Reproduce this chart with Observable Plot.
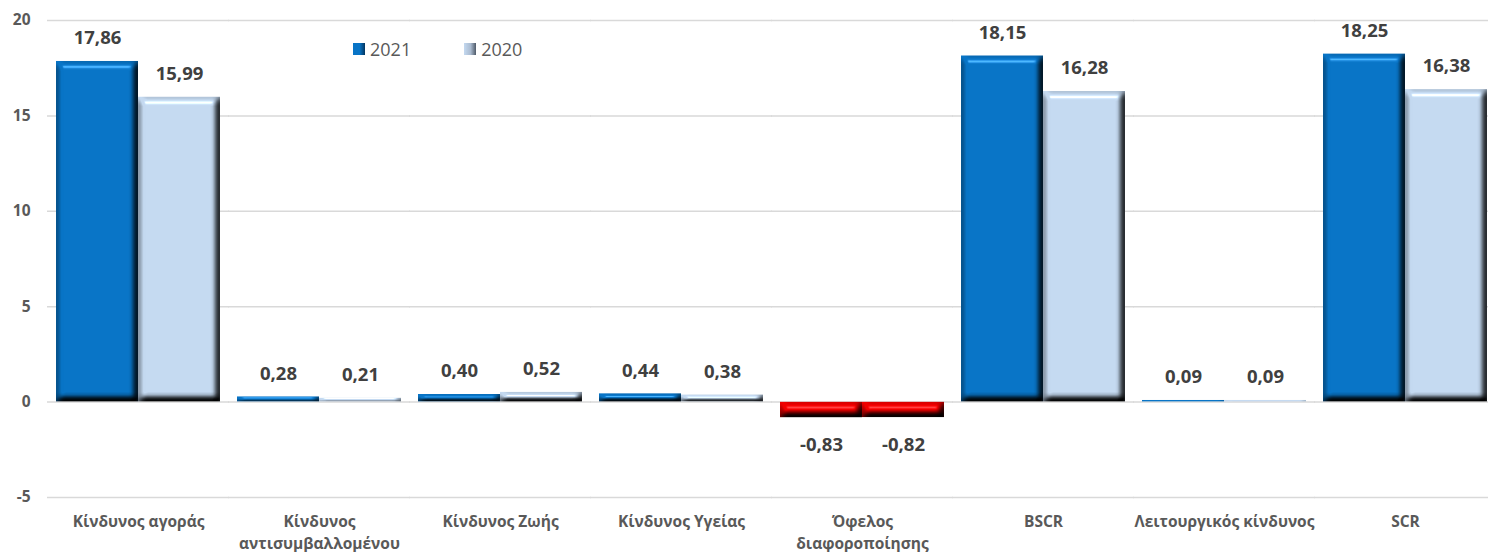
<!DOCTYPE html>
<html>
<head>
<meta charset="utf-8">
<script src="https://cdn.jsdelivr.net/npm/d3@7"></script>
<script src="https://cdn.jsdelivr.net/npm/@observablehq/plot@0.6"></script>
<style>
  html, body { margin: 0; padding: 0; background: #fff; overflow: hidden; }
  #wrap { position: relative; width: 1488px; height: 552px; font-family: "Open Sans", sans-serif; }
  #legend { position: absolute; left: 353px; top: 37px; display: flex; align-items: center; font-size: 18px; color: #595959; }
  #legend .item { display: flex; align-items: center; margin-right: 53px; }
  #legend .sw { width: 12px; height: 12px; margin-right: 5px; }
</style>
</head>
<body>
<div id="wrap">
  <div id="chart"></div>
  <div id="legend"></div>
</div>
<script>
// ---- data ----
const categories = ["Κίνδυνος αγοράς", "Κίνδυνος αντισυμβαλλομένου", "Κίνδυνος Ζωής", "Κίνδυνος Υγείας", "Όφελος διαφοροποίησης", "BSCR", "Λειτουργικός κίνδυνος", "SCR"];
const categoryTickLabels = ["Κίνδυνος αγοράς", "Κίνδυνος\nαντισυμβαλλομένου", "Κίνδυνος Ζωής", "Κίνδυνος Υγείας", "Όφελος\nδιαφοροποίησης", "BSCR", "Λειτουργικός κίνδυνος", "SCR"];
const years = ["2021", "2020"];
const values2021 = [17.86, 0.28, 0.40, 0.44, -0.83, 18.15, 0.09, 18.25];
const values2020 = [15.99, 0.21, 0.52, 0.38, -0.82, 16.28, 0.09, 16.38];
const yTicks = [-5, 0, 5, 10, 15, 20];
const yDomain = [-5, 20];
const yearColors = ["#0874C6", "#C4D9F0"];
const negativeColor = "#F00000";

// ---- table ----
const fmt = v => (v < 0 ? "-" : "") + Math.abs(v).toFixed(2).replace(".", ",");
const data = [];
categories.forEach((c, i) => {
  [values2021, values2020].forEach((vals, j) => {
    const v = vals[i];
    data.push({cat: c, year: years[j], value: v, label: fmt(v), color: v < 0 ? negativeColor : yearColors[j]});
  });
});

const chart = Plot.plot({
  width: 1488,
  height: 552,
  marginLeft: 46,
  marginRight: -9,
  marginTop: 20,
  marginBottom: 55,
  style: {fontFamily: "'Open Sans', sans-serif", background: "#fff", overflow: "visible"},
  fx: {domain: categories, paddingInner: 0.0944, paddingOuter: 0.05, label: null},
  x: {domain: years, padding: 0, axis: null},
  y: {domain: yDomain, axis: null},
  marks: [
    Plot.ruleY(yTicks, {stroke: "#d9d9d9", strokeWidth: 1.5, insetLeft: -9, insetRight: -9}),
    Plot.barY(data, {fx: "cat", x: "year", y: "value", fill: "color"}),
    Plot.text(data.filter(d => d.value >= 0), {fx: "cat", x: "year", y: "value", text: "label", dy: -23, fontSize: 18.5, fontWeight: "bold", fill: "#404040"}),
    Plot.text(data.filter(d => d.value < 0), {fx: "cat", x: "year", y: "value", text: "label", dy: 27, fontSize: 18.5, fontWeight: "bold", fill: "#404040"}),
    Plot.axisY({ticks: yTicks, tickSize: 0, tickPadding: 26, tickFormat: d => String(d), fontSize: 15.5, fontWeight: "bold", fill: "#595959", label: null}),
    Plot.axisFx({anchor: "bottom", tickSize: 0, tickPadding: 14, tickFormat: d => categoryTickLabels[categories.indexOf(d)], lineHeight: 1.42, fontSize: 15.5, fontWeight: "bold", fill: "#595959", label: null})
  ]
});

// bevel filter
const ns = "http://www.w3.org/2000/svg";
const defs = document.createElementNS(ns, "defs");
defs.innerHTML = `
<filter id="bevel" x="-5%" y="-5%" width="110%" height="110%" color-interpolation-filters="sRGB">
  <feGaussianBlur in="SourceAlpha" stdDeviation="3.8" result="blur"/>
  <feDiffuseLighting in="blur" surfaceScale="9" diffuseConstant="1.155" lighting-color="#ffffff" result="diff">
    <feDistantLight azimuth="240" elevation="60"/>
  </feDiffuseLighting>
  <feSpecularLighting in="blur" surfaceScale="9" specularConstant="0.8" specularExponent="40" lighting-color="#ffffff" result="spec">
    <feDistantLight azimuth="265" elevation="35"/>
  </feSpecularLighting>
  <feComposite in="SourceGraphic" in2="diff" operator="arithmetic" k1="1" k2="0" k3="0" k4="0" result="lit"/>
  <feComposite in="spec" in2="SourceAlpha" operator="in" result="specIn"/>
  <feComposite in="lit" in2="specIn" operator="arithmetic" k1="0" k2="1" k3="0.35" k4="0" result="out"/>
  <feComposite in="out" in2="SourceAlpha" operator="in"/>
</filter>`;
chart.insertBefore(defs, chart.firstChild);
chart.querySelectorAll('g[aria-label="bar"] rect').forEach(r => r.setAttribute("filter", "url(#bevel)"));

document.getElementById("chart").appendChild(chart);

// legend
const legend = document.getElementById("legend");
const swatchStyles = [
  "linear-gradient(90deg, #0874C6 0%, #0874C6 55%, #03355f 100%)",
  "linear-gradient(90deg, #C4D9F0 0%, #aabbd0 55%, #4f5a68 100%)"
];
years.forEach((y, i) => {
  const item = document.createElement("div");
  item.className = "item";
  const sw = document.createElement("div");
  sw.className = "sw";
  sw.style.background = swatchStyles[i];
  const t = document.createElement("span");
  t.textContent = y;
  item.appendChild(sw);
  item.appendChild(t);
  legend.appendChild(item);
});
</script>
</body>
</html>
